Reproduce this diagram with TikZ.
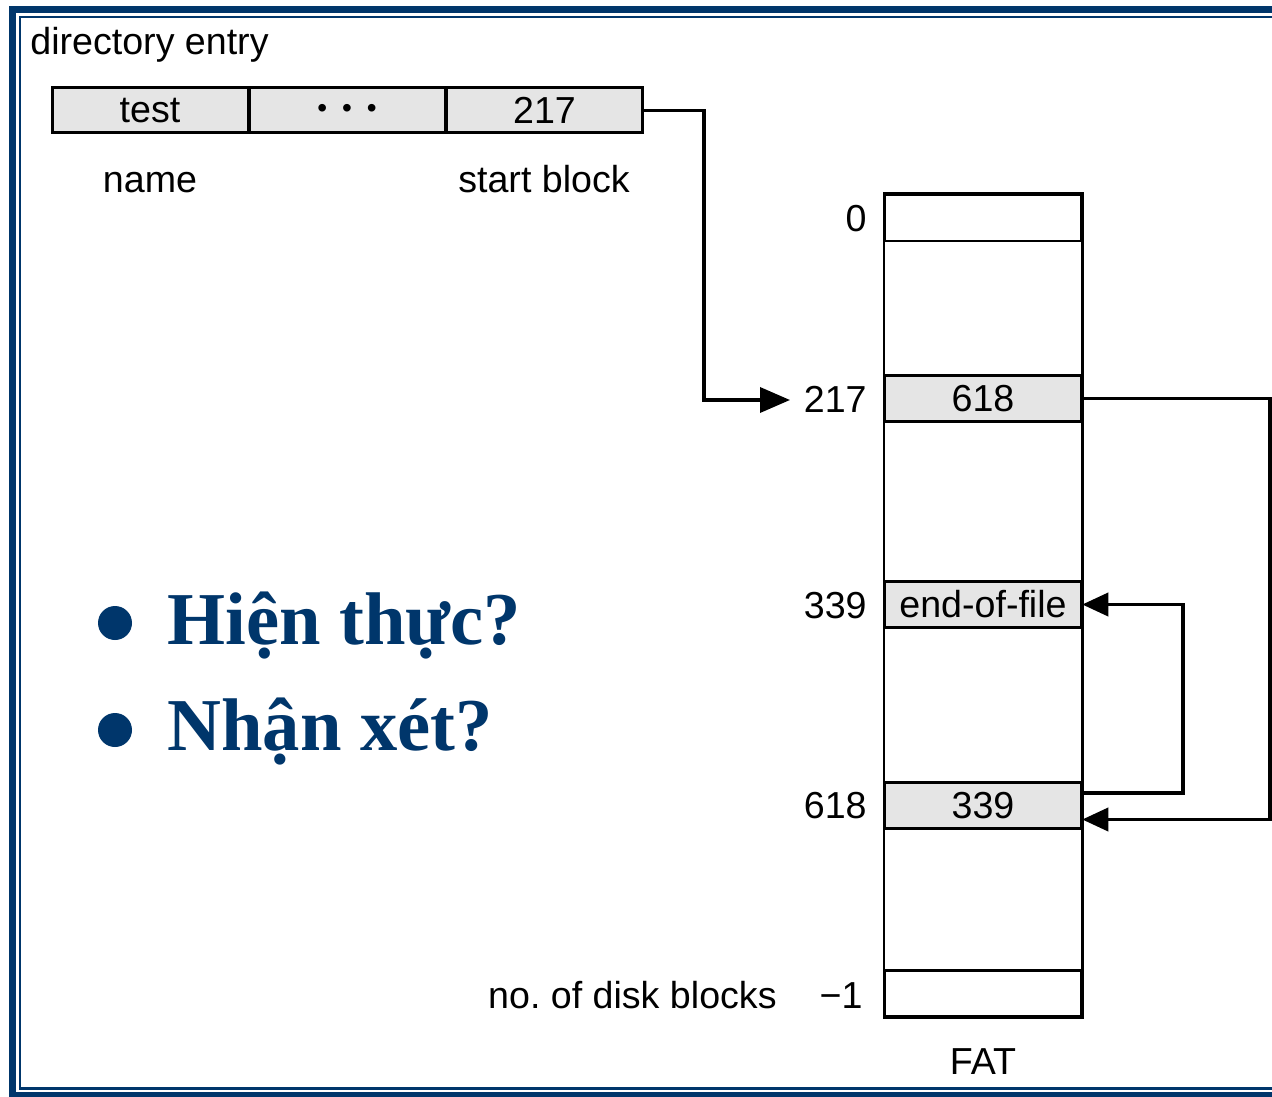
\documentclass[tikz,border=0pt]{standalone}
\usepackage{fontspec}
\setmainfont{Liberation Serif}
\newfontfamily\lsans{Liberation Sans}
\usetikzlibrary{arrows.meta}
\definecolor{navy}{RGB}{0,54,107}
\definecolor{cellgray}{RGB}{229,229,229}
\frenchspacing
\begin{document}
\begin{tikzpicture}[x=0.5pt,y=-0.5pt,
  lbl/.style={font=\lsans\fontsize{18.8}{22}\selectfont, inner sep=0pt},
  entrycell/.style={draw, line width=1.5pt, fill=cellgray, minimum width=98pt, minimum height=22.5pt, inner sep=0pt, font=\lsans\fontsize{18.8}{22}\selectfont},
  fatcell/.style={draw, line width=1.25pt, minimum width=98pt, minimum height=23pt, inner sep=0pt, font=\lsans\fontsize{18.8}{22}\selectfont},
  graycell/.style={fatcell, fill=cellgray},
  conn/.style={line width=1.9pt, -{Triangle[length=13pt,width=11.5pt]}},
  bigconn/.style={line width=1.8pt, -{Triangle[length=15pt,width=12.5pt]}},
  bullet/.style={circle, fill=navy, minimum size=17pt, inner sep=0pt},
  bultext/.style={anchor=base west, inner sep=0pt, text=navy, font=\bfseries\fontsize{37.3}{40}\selectfont},
  framethick/.style={draw=navy, line width=3.5pt},
  framethin/.style={draw=navy, line width=1.25pt}]
\useasboundingbox (0,0) rectangle (1272,1096);
\clip (0,0) rectangle (1272,1096);
\fill[white] (0,0) rectangle (1272,1096);
% frame
\draw[framethick] (12.5,9.5) rectangle (1320,1095.5);
\draw[framethin] (20,17) rectangle (1320,1088.5);

% directory entry
\node[lbl, anchor=base west] (dirlabel) at (30,55) {directory entry};
\node[entrycell] (e1) at (150,110.5) {test};
\node[entrycell] (e2) at (347,110.5) {\raisebox{-0.5pt}{\fontsize{14}{14}\selectfont •\hspace{7.5pt}•\hspace{7.5pt}•}};
\node[entrycell] (e3) at (544.5,110.5) {217};
\node[lbl, anchor=base] (namelbl) at (150,193) {name};
\node[lbl, anchor=base] (startlbl) at (544,193) {start block};

% FAT
\node[fatcell] (f0) at (983,218) {};
\node[fatcell] (flast) at (983,993.5) {};
\draw[line width=1.25pt] (f0.north west) rectangle (flast.south east);
\node[graycell] (f217) at (983,398.5) {618};
\node[graycell] (f339) at (983,604.5) {end-of-file};
\node[graycell] (f618) at (983,805.5) {339};

\node[lbl, anchor=base east] (l0) at (867,232) {0};
\node[lbl, anchor=base east] (l217) at (867,412) {217};
\node[lbl, anchor=base east] (l339) at (867,618) {339};
\node[lbl, anchor=base east] (l618) at (867,818) {618};
\node[lbl, anchor=base east] (lm1) at (863,1008) {−1};
\node[lbl, anchor=base east] (ndb) at (777,1008) {no. of disk blocks};
\node[lbl, anchor=base] (fatlbl) at (983,1074) {FAT};

% connectors
\coordinate (t217) at (790,400);
\draw[bigconn] (e3.east) -- (704,110.5) |- (t217);
\draw[conn] (f217.east) -| (1270,819.5) -- ([yshift=-7pt]f618.east);
\draw[conn] ([yshift=6.25pt]f618.east) -| (1183,604.5) -- (f339.east);

% bullets
\node[bullet] (b1) at (115,623) {};
\node[bultext] (t1) at (167,644) {Hiện thực?};
\node[bullet] (b2) at (115,730) {};
\node[bultext] (t2) at (167,750) {Nhận xét?};
\end{tikzpicture}
\end{document}
